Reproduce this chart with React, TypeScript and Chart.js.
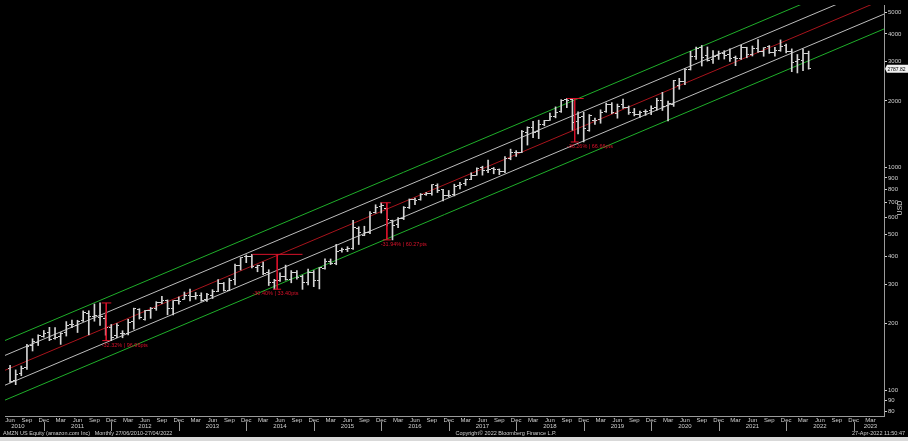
import React, { useEffect, useRef } from "react";
import { Chart, registerables } from "chart.js";
Chart.register(...registerables);

// Monthly OHLC, month index 0 = Jun 2010, last = Apr 2022
const opens = [
  125.4, 110.0, 119.0, 126.0, 158.0, 164.0, 175.0,
  181.4, 170.5, 173.5, 181.6, 196.6, 196.0, 205.0, 222.0, 215.0, 213.0, 209.0, 192.0,
  175.9, 179.5, 179.0, 203.0, 229.7, 208.4, 227.8, 234.0, 248.0, 252.6, 234.0, 253.0,
  256.0, 267.0, 263.0, 266.0, 255.0, 267.7, 279.0, 303.0, 282.0, 314.0, 363.0, 399.0,
  398.8, 357.0, 361.0, 338.0, 304.0, 312.0, 325.0, 313.0, 338.0, 324.0, 305.0, 338.0,
  312.0, 351.0, 380.0, 372.0, 423.0, 431.0, 434.0, 536.0, 497.0, 510.0, 627.0, 673.0,
  656.0, 578.0, 556.0, 590.0, 663.0, 720.0, 720.0, 759.0, 769.0, 836.0, 795.0, 752.0,
  757.9, 829.0, 853.0, 888.0, 927.8, 998.6, 972.8, 996.0, 984.2, 964.0, 1105.4, 1172.0,
  1172.0, 1445.0, 1513.6, 1456.0, 1568.0, 1637.0, 1702.0, 1784.0, 2022.0, 2021.0, 1623.0, 1705.0,
  1465.2, 1638.9, 1655.1, 1800.0, 1933.0, 1760.0, 1922.0, 1871.7, 1770.0, 1746.0, 1788.0, 1804.4,
  1875.0, 2010.6, 1906.5, 1932.9, 2336.8, 2448.0, 2758.0, 3180.5, 3489.6, 3208.0, 3061.7, 3188.5,
  3270.0, 3242.4, 3127.0, 3117.0, 3484.7, 3243.5, 3434.6, 3353.1, 3496.4, 3289.0, 3361.8, 3545.2,
  3351.0, 3000.0, 3054.0, 3282.4,
];
const highs = [
  129.2, 123.3, 128.4, 160.7, 170.2, 177.4, 185.5,
  191.6, 191.4, 181.6, 203.4, 206.4, 206.2, 227.2, 227.5, 244.0, 246.7, 217.9, 197.4,
  199.2, 185.0, 208.0, 233.8, 232.4, 228.7, 235.4, 250.0, 264.1, 254.6, 252.6, 262.5,
  276.2, 284.7, 275.0, 274.0, 272.2, 283.0, 314.0, 305.0, 318.0, 369.0, 395.0, 405.6,
  408.1, 365.0, 377.0, 348.0, 315.0, 337.0, 365.0, 345.0, 345.0, 329.0, 350.0, 345.0,
  356.0, 390.0, 389.0, 452.6, 436.0, 441.8, 580.6, 543.0, 546.0, 635.0, 682.0, 696.4,
  657.7, 581.8, 596.9, 669.3, 724.2, 731.5, 766.0, 774.5, 839.9, 847.2, 800.0, 790.8,
  843.8, 860.9, 890.3, 949.6, 1001.2, 1017.0, 1083.3, 1003.5, 988.0, 1122.8, 1213.4, 1194.8,
  1472.6, 1528.7, 1617.5, 1638.1, 1635.0, 1763.1, 1880.0, 2025.6, 2050.5, 2033.2, 1784.0, 1778.3,
  1736.4, 1673.1, 1823.8, 1956.0, 1964.4, 1935.2, 2035.8, 1897.9, 1849.2, 1798.9, 1824.7, 1901.4,
  2055.7, 2185.9, 1996.3, 2475.0, 2525.5, 2796.0, 3344.3, 3495.0, 3552.3, 3496.2, 3366.8, 3350.7,
  3363.9, 3434.0, 3183.0, 3554.0, 3486.7, 3531.5, 3773.1, 3472.6, 3550.0, 3482.0, 3762.2, 3606.5,
  3428.0, 3235.0, 3422.0, 3349.5,
];
const lows = [
  108.2, 105.8, 116.1, 124.0, 150.0, 158.7, 173.0,
  166.9, 169.5, 160.6, 175.1, 190.9, 181.6, 203.6, 177.3, 204.2, 195.4, 176.6, 167.0,
  172.0, 172.0, 177.0, 188.0, 208.9, 206.4, 210.3, 228.5, 245.0, 218.2, 218.2, 243.6,
  256.0, 252.0, 256.5, 251.0, 250.5, 258.3, 277.0, 279.0, 280.0, 297.0, 347.0, 374.5,
  355.0, 340.8, 331.0, 295.5, 284.4, 308.0, 312.4, 304.0, 316.0, 284.0, 297.0, 292.0,
  285.3, 350.0, 367.0, 366.5, 417.0, 420.0, 429.0, 452.0, 495.0, 506.0, 625.0, 626.0,
  547.2, 474.0, 538.0, 585.0, 656.0, 682.0, 715.0, 752.0, 753.0, 774.0, 710.0, 740.5,
  747.7, 803.0, 833.5, 884.5, 927.8, 927.0, 951.0, 940.2, 931.8, 950.4, 1086.9, 1124.7,
  1170.5, 1265.9, 1365.2, 1352.9, 1546.0, 1635.1, 1678.0, 1776.0, 1865.0, 1476.4, 1420.0, 1307.0,
  1460.9, 1566.8, 1586.6, 1777.1, 1751.3, 1672.0, 1849.4, 1739.4, 1712.2, 1685.1, 1722.7, 1735.0,
  1815.3, 1811.1, 1626.0, 1889.2, 2256.4, 2366.0, 2754.0, 3073.0, 2871.0, 3019.0, 2950.0, 3072.8,
  3086.0, 3009.0, 2881.0, 3075.0, 3127.4, 3184.0, 3306.8, 3175.8, 3270.7, 3176.3, 3343.6, 3288.3,
  2707.0, 2671.5, 2734.0, 2778.0,
];
const closes = [
  109.3, 117.9, 124.8, 157.1, 165.2, 175.4, 180.0,
  169.6, 173.3, 180.1, 195.8, 196.7, 204.5, 222.5, 215.2, 216.2, 213.5, 192.3, 173.1,
  194.4, 179.7, 202.5, 231.9, 212.9, 228.4, 233.3, 248.3, 254.3, 232.9, 252.1, 250.9,
  265.5, 264.3, 266.5, 253.8, 269.2, 277.7, 301.2, 281.0, 312.6, 364.0, 393.6, 398.8,
  358.7, 362.1, 336.4, 304.1, 312.6, 324.8, 313.0, 339.0, 322.4, 305.5, 338.6, 310.4,
  354.5, 380.2, 372.1, 421.8, 429.2, 434.1, 536.2, 512.9, 511.9, 625.9, 664.8, 675.9,
  587.0, 552.5, 593.6, 659.6, 722.8, 715.6, 758.8, 769.2, 837.3, 789.8, 750.6, 749.9,
  823.5, 845.0, 886.5, 925.0, 994.6, 968.0, 987.8, 980.6, 961.4, 1105.3, 1176.8, 1169.5,
  1450.9, 1512.5, 1447.3, 1566.1, 1629.6, 1699.8, 1777.4, 2012.7, 2003.0, 1598.0, 1690.2, 1502.0,
  1718.7, 1639.8, 1780.8, 1926.5, 1775.1, 1893.6, 1866.8, 1776.3, 1735.9, 1776.7, 1800.8, 1847.8,
  2008.7, 1883.8, 1949.7, 2474.0, 2442.4, 2758.8, 3164.7, 3451.0, 3148.7, 3036.2, 3168.0, 3256.9,
  3206.2, 3092.9, 3094.1, 3467.4, 3223.1, 3440.2, 3327.6, 3470.8, 3285.0, 3372.4, 3507.1, 3334.3,
  2991.5, 3071.3, 3260.0, 2787.82,
];

// Regression channel endpoints, at x-axis min and max
const channelMonths = [-0.9, 155.4];
const channelUpper2 = [167.2, 7805];
const channelUpper1 = [143.3, 6690];
const channelCenter = [122.8, 5734];
const channelLower1 = [105.25, 4915];
const channelLower2 = [90.2, 4213];

// Drawdown annotations
const ddPeakStart = [16.3, 43.1, 65.9, 99.0];
const ddPeakEnd = [18.0, 52.0, 67.7, 102.0];
const ddVertMonth = [17.1, 47.5, 67.0, 100.4];
const ddPeak = [246.7, 408.1, 696.4, 2050.5];
const ddTrough = [167.0, 284.4, 474.0, 1307.0];
const ddLabels = ["-32.32% | 96.96pts", "-30.40% | 33.40pts", "-31.94% | 60.27pts", "-36.26% | 66.66pts"];

// Axis ticks
const yTickValues = [80, 90, 100, 200, 300, 400, 500, 600, 700, 800, 900, 1000, 2000, 3000, 4000, 5000];
const quarterNames = ["Jun", "Sep", "Dec", "Mar"];
const yearLabels = ["2010", "2011", "2012", "2013", "2014", "2015", "2016", "2017", "2018", "2019", "2020", "2021", "2022", "2023"];
const yearLabelMonths = [1.4, 12, 24, 36, 48, 60, 72, 84, 96, 108, 120, 132, 144, 153];
const lastTickMonth = 153;

const FONT = "'Liberation Sans', Arial, sans-serif";

function tickCanvas(side: "left" | "right") {
  const c = document.createElement("canvas");
  c.width = 5;
  c.height = 1;
  const g = c.getContext("2d")!;
  g.fillStyle = "#d4d4d4";
  if (side === "left") g.fillRect(0, 0, 2, 1);
  else g.fillRect(3, 0, 2, 1);
  return c;
}

export default function App() {
  const ref = useRef<HTMLCanvasElement>(null);
  useEffect(() => {
    document.body.style.margin = "0";
    document.body.style.background = "#000";
    const leftTick = tickCanvas("left");
    const rightTick = tickCanvas("right");

    const chLine = (vals: number[], color: string) => ({
      type: "line" as const,
      data: channelMonths.map((m, i) => ({ x: m, y: vals[i] })),
      borderColor: color,
      borderWidth: 1,
      pointRadius: 0,
      fill: false,
      order: 5,
    });
    const redLine = (pts: { x: number; y: number }[]) => ({
      type: "line" as const,
      data: pts,
      borderColor: "#d8122a",
      borderWidth: 1,
      pointRadius: 0,
      fill: false,
      order: 0,
    });

    const ddSets: any[] = [];
    ddPeak.forEach((p, i) => {
      ddSets.push(redLine([{ x: ddPeakStart[i], y: p }, { x: ddPeakEnd[i], y: p }]));
      ddSets.push(redLine([{ x: ddVertMonth[i], y: p }, { x: ddVertMonth[i], y: ddTrough[i] }]));
      ddSets.push(redLine([{ x: ddVertMonth[i] - 0.7, y: ddTrough[i] }, { x: ddVertMonth[i] + 0.7, y: ddTrough[i] }]));
    });

    const extras = {
      id: "extras",
      beforeDraw(chart: any) {
        const c = chart.ctx;
        c.save();
        c.fillStyle = "#000";
        c.fillRect(0, 0, chart.width, chart.height);
        c.fillStyle = "#d9d9d9";
        c.fillRect(0, 437, chart.width, chart.height - 437);
        c.restore();
      },
      afterDraw(chart: any) {
        const c = chart.ctx;
        const xs = chart.scales.x;
        const ys = chart.scales.y;
        c.save();
        // year labels
        c.font = `6px ${FONT}`;
        c.fillStyle = "#d0d0d0";
        c.textAlign = "center";
        c.textBaseline = "middle";
        yearLabels.forEach((t, i) => c.fillText(t, xs.getPixelForValue(yearLabelMonths[i]), 426.5));
        // Dec separators
        c.strokeStyle = "#9a9a9a";
        c.lineWidth = 1;
        for (let m = 6; m <= lastTickMonth; m += 12) {
          const px = Math.round(xs.getPixelForValue(m)) + 0.5;
          c.beginPath();
          c.moveTo(px, 422);
          c.lineTo(px, 431);
          c.stroke();
        }
        // footer
        c.font = `5.5px ${FONT}`;
        c.fillStyle = "#cfcfcf";
        c.textBaseline = "middle";
        c.textAlign = "left";
        c.fillText("AMZN US Equity (amazon.com Inc)   Monthly 27/06/2010-27/04/2022", 3, 433.5);
        c.textAlign = "center";
        c.fillText("Copyright\u00a9 2022 Bloomberg Finance L.P.", 506, 433.5);
        c.textAlign = "right";
        c.fillText("27-Apr-2022 11:50:47", 905, 433.5);
        // drawdown labels
        c.font = `5.5px ${FONT}`;
        c.fillStyle = "#d8122a";
        c.textAlign = "left";
        c.textBaseline = "top";
        ddLabels.forEach((t, i) => {
          c.fillText(t, xs.getPixelForValue(ddPeakStart[i]), ys.getPixelForValue(ddTrough[i]) + 2);
        });
        // last price tag
        const last = closes[closes.length - 1];
        const py = ys.getPixelForValue(last);
        const ax = chart.chartArea.right;
        c.fillStyle = "#f0f0f0";
        c.beginPath();
        c.moveTo(ax + 1, py);
        c.lineTo(ax + 3, py - 4);
        c.lineTo(908, py - 4);
        c.lineTo(908, py + 4);
        c.lineTo(ax + 3, py + 4);
        c.closePath();
        c.fill();
        c.fillStyle = "#000";
        c.font = `5px ${FONT}`;
        c.textAlign = "left";
        c.textBaseline = "middle";
        c.fillText(last.toFixed(2), ax + 3.5, py + 0.5);
        // USD axis title
        c.translate(900, 208);
        c.rotate(-Math.PI / 2);
        c.fillStyle = "#cfcfcf";
        c.textAlign = "center";
        c.font = `7px ${FONT}`;
        c.fillText("USD", 0, 0);
        c.restore();
      },
    };

    const chart = new Chart(ref.current!, {
      type: "line",
      data: {
        datasets: [
          chLine(channelUpper2, "#1fae2a"),
          chLine(channelUpper1, "#bdbdbd"),
          chLine(channelCenter, "#a8141c"),
          chLine(channelLower1, "#bdbdbd"),
          chLine(channelLower2, "#1fae2a"),
          {
            type: "bar",
            data: lows.map((l, i) => ({ x: i, y: [l, highs[i]] })),
            backgroundColor: "#d4d4d4",
            borderWidth: 0,
            barThickness: 1,
            order: 2,
          } as any,
          {
            type: "line",
            data: opens.map((o, i) => ({ x: i, y: o })),
            showLine: false,
            pointStyle: leftTick as any,
            pointRadius: 2,
            order: 1,
          },
          {
            type: "line",
            data: closes.map((o, i) => ({ x: i, y: o })),
            showLine: false,
            pointStyle: rightTick as any,
            pointRadius: 2,
            order: 1,
          },
          ...ddSets,
        ],
      },
      options: {
        responsive: false,
        animation: false,
        devicePixelRatio: 1,
        layout: { padding: 0 },
        plugins: { legend: { display: false }, tooltip: { enabled: false } },
        scales: {
          x: {
            type: "linear",
            min: channelMonths[0],
            max: channelMonths[1],
            offset: false,
            grid: { display: true, drawOnChartArea: false, drawTicks: true, tickLength: 1, color: "#9a9a9a", offset: false },
            border: { display: true, color: "#9a9a9a", width: 1 },
            afterBuildTicks: (scale: any) => {
              const t = [];
              for (let m = 0; m <= lastTickMonth; m += 3) t.push({ value: m });
              scale.ticks = t;
            },
            afterFit: (scale: any) => {
              scale.height = 25;
            },
            ticks: {
              autoSkip: false,
              maxRotation: 0,
              padding: 0,
              color: "#d0d0d0",
              font: { size: 6, family: FONT },
              callback: (v: any) => quarterNames[Math.round(v / 3) % 4],
            },
          },
          y: {
            type: "logarithmic",
            position: "right",
            min: 76.5,
            max: 5400,
            grid: { display: true, drawOnChartArea: false, drawTicks: true, tickLength: 3, color: "#d0d0d0" },
            border: { display: true, color: "#9a9a9a", width: 1 },
            afterBuildTicks: (scale: any) => {
              scale.ticks = yTickValues.map((v) => ({ value: v }));
            },
            afterFit: (scale: any) => {
              scale.width = 24;
            },
            ticks: {
              autoSkip: false,
              padding: 1,
              color: "#d0d0d0",
              font: { size: 6, family: FONT },
              callback: (v: any) => String(v),
            },
          },
        },
      },
      plugins: [extras],
    });
    return () => chart.destroy();
  }, []);
  return (
    <div style={{ width: 908, height: 441, background: "#000" }}>
      <canvas ref={ref} width={908} height={441} style={{ display: "block", width: 908, height: 441 }} />
    </div>
  );
}
